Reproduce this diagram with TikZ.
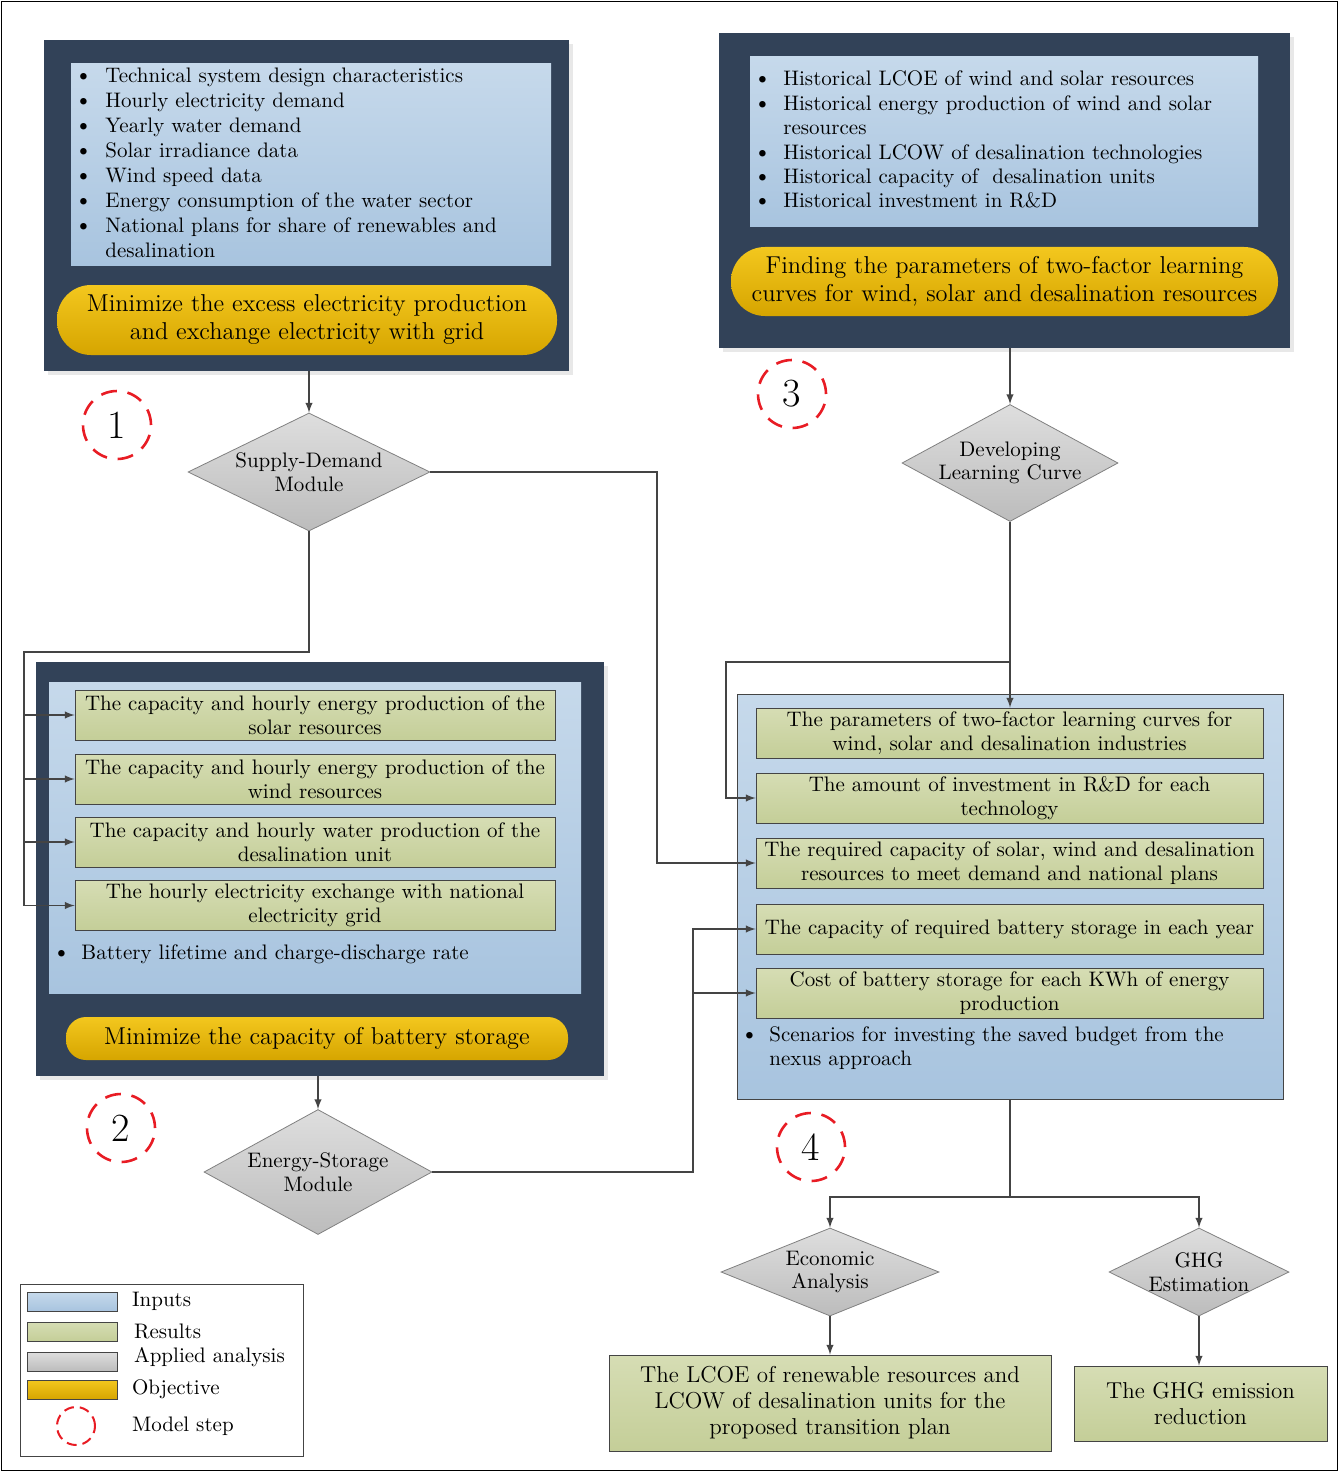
\documentclass[tikz,border=0pt]{standalone}
\usetikzlibrary{shapes.geometric,shadows}

\definecolor{navybox}{RGB}{50,66,88}
\definecolor{inblueA}{RGB}{198,217,235}
\definecolor{inblueB}{RGB}{168,196,223}
\definecolor{resgreenA}{RGB}{214,221,180}
\definecolor{resgreenB}{RGB}{196,206,152}
\definecolor{angrayA}{RGB}{222,222,222}
\definecolor{angrayB}{RGB}{188,188,188}
\definecolor{objyellowA}{RGB}{243,199,30}
\definecolor{objyellowB}{RGB}{214,165,0}
\definecolor{linegray}{RGB}{68,68,68}
\definecolor{stepred}{RGB}{232,28,36}

\newcommand{\bodyfont}{\fontsize{10.5}{12.5}\selectfont}
\newcommand{\boxfont}{\fontsize{10.5}{12}\selectfont}
\newcommand{\bigfont}{\fontsize{12.2}{14}\selectfont}
\newcommand{\resfont}{\fontsize{11.5}{13}\selectfont}
\newcommand{\bul}{{\large\textbullet}}

\tikzset{
  navy/.style={fill=navybox, inner sep=0pt,
    drop shadow={shadow xshift=2pt, shadow yshift=-2pt, fill=black!18}},
  inputs/.style={top color=inblueA, bottom color=inblueB, inner sep=0pt},
  results/.style={draw=linegray, top color=resgreenA, bottom color=resgreenB,
    inner sep=1pt, align=center, font=\boxfont},
  objective/.style={top color=objyellowA, bottom color=objyellowB,
    inner sep=0pt, align=center, font=\bigfont},
  analysis/.style={diamond, draw=gray, top color=angrayA, bottom color=angrayB,
    inner sep=-2pt, align=center, font=\fontsize{10.5}{11.8}\selectfont},
  stepcirc/.style={circle, draw=stepred, line width=1.3pt,
    dash pattern=on 8pt off 5.4pt, minimum size=34pt, inner sep=0pt,
    font=\fontsize{20}{20}\selectfont},
  swatch/.style={draw=linegray, minimum width=45pt, minimum height=9.5pt, inner sep=0pt},
  conn/.style={draw=linegray, line width=0.7pt},
  arrow/.style={-latex, draw=linegray, line width=0.7pt}
}

\begin{document}
\begin{tikzpicture}[x=0.5pt, y=-0.5pt]
  \useasboundingbox (0,0) rectangle (1338,1471);
  \draw (1,1) rectangle (1337,1470);

  % step 1: supply-demand inputs
  \node[navy, minimum width=262.5pt, minimum height=165.5pt] (nav1) at (306.5,205.5) {};
  \node[inputs, minimum width=240pt, minimum height=100.5pt] (in1) at (311,164.5) {};
  \node[anchor=base west, inner sep=0pt, font=\bodyfont] (list1) at (74,83) {%
    \begin{tabular}[t]{@{}p{15.5pt}@{}l@{}}
      \bul & Technical system design characteristics\\
      \bul & Hourly electricity demand\\
      \bul & Yearly water demand\\
      \bul & Solar irradiance data\\
      \bul & Wind speed data\\
      \bul & Energy consumption of the water sector\\
      \bul & National plans for share of renewables and\\
           & desalination
    \end{tabular}};
  \node[objective, rounded corners=17pt, minimum width=250pt, minimum height=35pt] (obj1)
    at (307,320) {Minimize the excess electricity production\\and exchange electricity with grid};

  % step 3: learning curve inputs
  \node[navy, minimum width=285.5pt, minimum height=157.5pt] (nav3) at (1004.5,190.5) {};
  \node[inputs, minimum width=254pt, minimum height=85pt] (in3) at (1004,142) {};
  \node[anchor=base west, inner sep=0pt, font=\fontsize{10.5}{12.2}\selectfont] (list3) at (753,86) {%
    \begin{tabular}[t]{@{}p{15pt}@{}l@{}}
      \bul & Historical LCOE of wind and solar resources\\
      \bul & Historical energy production of wind and solar\\
           & resources\\
      \bul & Historical LCOW of desalination technologies\\
      \bul & Historical capacity of \ desalination units\\
      \bul & Historical investment in R\&D
    \end{tabular}};
  \node[objective, rounded corners=17pt, minimum width=273.5pt, minimum height=34.5pt] (obj3)
    at (1004.5,281.5) {Finding the parameters of two-factor learning\\curves for wind, solar and desalination resources};

  % step 2: storage inputs and results
  \node[navy, minimum width=284pt, minimum height=207pt] (nav2) at (320,869) {};
  \node[inputs, minimum width=266pt, minimum height=155.5pt] (in2) at (315,837.5) {};
  \node[results, minimum width=240pt, minimum height=25pt] (res1) at (315,715)
    {The capacity and hourly energy production of the\\solar resources};
  \node[results, minimum width=240pt, minimum height=25pt] (res2) at (315,779)
    {The capacity and hourly energy production of the\\wind resources};
  \node[results, minimum width=240pt, minimum height=25pt] (res3) at (315,842)
    {The capacity and hourly water production of the\\desalination unit};
  \node[results, minimum width=240pt, minimum height=25pt] (res4) at (315,905.5)
    {The hourly electricity exchange with national\\electricity grid};
  \node[anchor=base west, inner sep=0pt, font=\bodyfont] (list2) at (52,959) {%
    \begin{tabular}[t]{@{}p{14.5pt}@{}l@{}}
      \bul & Battery lifetime and charge-discharge rate
    \end{tabular}};
  \node[objective, rounded corners=10pt, minimum width=251pt, minimum height=21.5pt] (obj2)
    at (317,1038.5) {Minimize the capacity of battery storage};

  % step 4: transition plan
  \node[inputs, draw=linegray, minimum width=273pt, minimum height=202.5pt] (in4) at (1010,896.5) {};
  \node[results, minimum width=253.5pt, minimum height=25pt] (par) at (1009.5,733)
    {The parameters of two-factor learning curves for\\wind, solar and desalination industries};
  \node[results, minimum width=253.5pt, minimum height=25pt] (rd) at (1009.5,798)
    {The amount of investment in R\&D for each\\technology};
  \node[results, minimum width=253.5pt, minimum height=25pt] (req) at (1009.5,863)
    {The required capacity of solar, wind and desalination\\resources to meet demand and national plans};
  \node[results, minimum width=253.5pt, minimum height=25pt] (bat) at (1009.5,929)
    {The capacity of required battery storage in each year};
  \node[results, minimum width=253.5pt, minimum height=25pt] (cost) at (1009.5,993)
    {Cost of battery storage for each KWh of energy\\production};
  \node[anchor=base west, inner sep=0pt, font=\fontsize{10.5}{12}\selectfont] (list4) at (740,1041) {%
    \begin{tabular}[t]{@{}p{14.5pt}@{}l@{}}
      \bul & Scenarios for investing the saved budget from the\\
           & nexus approach
    \end{tabular}};

  % analysis modules
  \node[analysis, aspect=2.05, minimum width=121pt, minimum height=59pt] (sd) at (309,472) {Supply-Demand\\Module};
  \node[analysis, aspect=1.85, minimum width=108pt, minimum height=58.5pt] (dlc) at (1010,463) {Developing\\Learning Curve};
  \node[analysis, aspect=1.82, minimum width=114pt, minimum height=62.5pt] (es) at (318,1172) {Energy-Storage\\Module};
  \node[analysis, aspect=2.48, minimum width=109pt, minimum height=44pt] (ea) at (830,1272) {Economic\\Analysis};
  \node[analysis, aspect=2.05, minimum width=90pt, minimum height=44pt] (ghg) at (1199,1272) {GHG\\Estimation};

  % final results
  \node[results, font=\resfont, minimum width=221pt, minimum height=48pt] (lcoe) at (830,1403)
    {The LCOE of renewable resources and\\LCOW of desalination units for the\\proposed transition plan};
  \node[results, font=\resfont, minimum width=126.5pt, minimum height=37.5pt] (ghgres) at (1200.5,1403.5)
    {The GHG emission\\reduction};

  % model steps
  \node[stepcirc] (s1) at (117,425) {1};
  \node[stepcirc] (s2) at (121,1128) {2};
  \node[stepcirc] (s3) at (792,394) {3};
  \node[stepcirc] (s4) at (811,1147) {4};

  % connectors
  \draw[arrow] (nav1.south -| sd.north) -- (sd.north);
  \coordinate (bus2) at (24,652);
  \draw[conn] (sd.south) |- (bus2) -- (bus2 |- res4.west);
  \foreach \r in {res1,res2,res3,res4}
    \draw[arrow] (bus2 |- \r.west) -- (\r.west);
  \coordinate (jog1) at (657,863);
  \draw[arrow] (sd.east) -| (jog1) -- (req.west);

  \draw[arrow] (nav3.south -| dlc.north) -- (dlc.north);
  \coordinate (split) at (1010,662);
  \coordinate (jog3) at (726,662);
  \draw[conn] (dlc.south) -- (split);
  \draw[arrow] (split) -- (split |- par.north);
  \draw[arrow] (split) -- (jog3) |- (rd.west);

  \draw[arrow] (nav2.south -| es.north) -- (es.north);
  \coordinate (jog2) at (693,929);
  \draw[arrow] (es.east) -| (jog2) -- (bat.west);
  \draw[arrow] (jog2 |- cost.west) -- (cost.west);

  \coordinate (bus4) at (1011,1197);
  \draw[conn] (in4.south) -- (in4.south |- bus4);
  \draw[arrow] (in4.south |- bus4) -| (ea.north);
  \draw[arrow] (in4.south |- bus4) -| (ghg.north);
  \draw[arrow] (ea.south) -- (ea.south |- lcoe.north);
  \draw[arrow] (ghg.south) -- (ghg.south |- ghgres.north);

  % legend
  \node[draw=linegray, minimum width=141.5pt, minimum height=86pt, inner sep=0pt] (legend) at (161.5,1370) {};
  \node[swatch, top color=inblueA, bottom color=inblueB] (lgin) at (72,1301.5) {};
  \node[swatch, top color=resgreenA, bottom color=resgreenB] (lgres) at (72,1331.5) {};
  \node[swatch, top color=angrayA, bottom color=angrayB] (lgan) at (72,1361.5) {};
  \node[swatch, top color=objyellowA, bottom color=objyellowB] (lgobj) at (72,1389.5) {};
  \node[circle, draw=stepred, line width=1pt, dash pattern=on 5pt off 3pt,
    minimum size=19pt] (lgstep) at (76,1426) {};
  \node[anchor=west, font=\bodyfont] at (125,1301) {Inputs};
  \node[anchor=west, font=\bodyfont] at (127,1331) {Results};
  \node[anchor=west, font=\bodyfont] at (127,1357) {Applied analysis};
  \node[anchor=west, font=\bodyfont] at (125,1389) {Objective};
  \node[anchor=west, font=\bodyfont] at (125,1426) {Model step};
\end{tikzpicture}
\end{document}
